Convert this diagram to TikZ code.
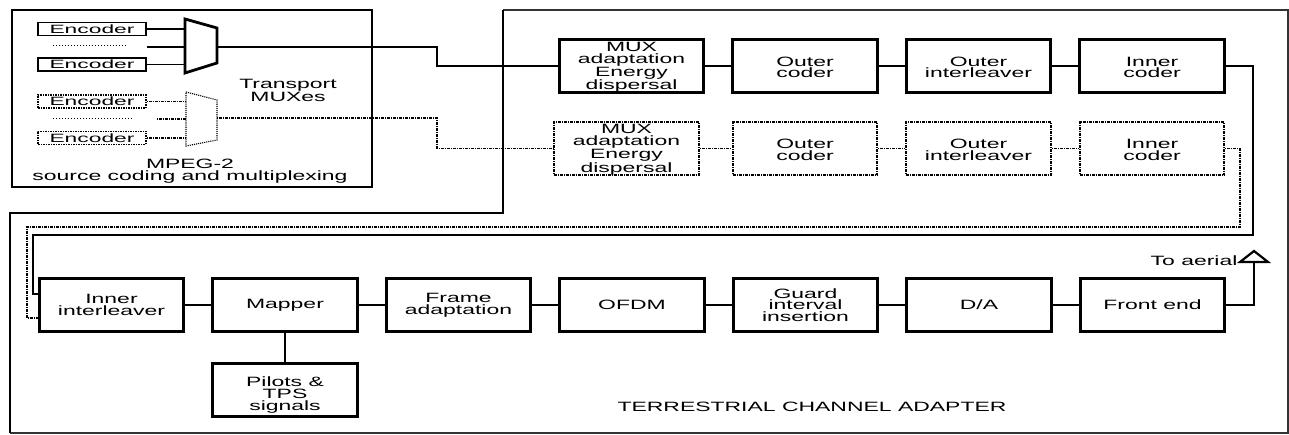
\documentclass[tikz,border=0pt]{standalone}
\usepackage{fontspec}
\setmainfont{Liberation Sans}[FakeStretch=1.70]
\newfontfamily\encfont{Liberation Sans}[FakeStretch=1.9]
\usetikzlibrary{positioning}

\tikzset{
  blockbox/.style={draw, line width=2.6pt, minimum width=144.5pt, minimum height=53.5pt, inner sep=0pt, align=center},
  ghostbox/.style={blockbox, line width=2pt, dash pattern=on 3pt off 1pt on 1pt off 1pt},
  lowtext/.style={text height=#1},
  encbox/.style={draw, line width=1.8pt, minimum width=108pt, minimum height=13pt, inner sep=0pt,
    font=\encfont\fontsize{12}{12}\selectfont},
  ghostenc/.style={encbox, line width=1.5pt, dash pattern=on 2pt off 1pt on 1pt off 1pt},
  link/.style={line width=1.4pt},
  ghostlink/.style={line width=1.4pt, dash pattern=on 1pt off 1pt on 3pt off 1pt},
}

\begin{document}
\begin{tikzpicture}[x=1pt,y=-1pt,node distance=173.5pt,on grid,
  font=\fontsize{13.5}{11.7}\selectfont]
\useasboundingbox (0,0) rectangle (1289,435);

% frames
\draw[line width=1.3pt, black!80] (503,10) -- (1288,10) -- (1288,433) -- (10,433);
\draw[line width=2.8pt] (10,433) -- (10,213) -- (503,213) -- (503,10);
\draw[line width=2.8pt] (12,10) rectangle (372,187);

% MPEG-2 part
\node[encbox]   (enc1) at (92,29)    {Encoder};
\node[encbox]   (enc2) at (92,64.5)  {Encoder};
\node[ghostenc] (enc3) at (92,101.5) {Encoder};
\node[ghostenc] (enc4) at (92,138)   {Encoder};
\draw[line width=1pt, dotted] (53,46) -- (127,46);
\draw[line width=1pt, dotted] (53,119) -- (133,119);

\draw[line width=2.8pt] (185,19) -- (217,28) -- (217,63) -- (185,73) -- cycle;
\draw[line width=1.1pt, densely dotted] (186,92) -- (217,100) -- (217,140) -- (186,146) -- cycle;
\coordinate (muxA) at (185,47);
\coordinate (muxAout) at (217,47);
\coordinate (dotsA) at (147,47);
\coordinate (muxB) at (186,119);
\coordinate (muxBout) at (217,118);
\coordinate (dotsB) at (157,119);

\draw[link] (enc1.east) -- (enc1.east -| muxA);
\draw[link] (enc2.east) -- (enc2.east -| muxA);
\draw[link] (dotsA) -- (muxA);
\draw[ghostlink] (enc3.east) -- (enc3.east -| muxB);
\draw[ghostlink] (enc4.east) -- (enc4.east -| muxB);
\draw[ghostlink] (dotsB) -- (muxB);

\node[align=center] (tmux) at (288,90) {Transport\\MUXes};
\node[align=center] (mpeg) at (190,171) {MPEG-2\\source coding and multiplexing};

% channel adapter, first row
\node[blockbox, lowtext=50.5pt] (madapt) at (631.5,66)  {MUX\\adaptation\\Energy\\dispersal};
\node[blockbox, lowtext=24pt] (ocoder) [right=of madapt] {Outer\\coder};
\node[blockbox, lowtext=24pt] (ointl)  [right=of ocoder] {Outer\\interleaver};
\node[blockbox, lowtext=24pt] (icoder) [right=of ointl]  {Inner\\coder};

\node[ghostbox, lowtext=50.5pt] (madaptB) [below=82.5pt of madapt, xshift=-5pt] {MUX\\adaptation\\Energy\\dispersal};
\node[ghostbox, lowtext=24pt] (ocoderB) [below=82.5pt of ocoder] {Outer\\coder};
\node[ghostbox, lowtext=24pt] (ointlB)  [below=82.5pt of ointl]  {Outer\\interleaver};
\node[ghostbox, lowtext=24pt] (icoderB) [below=82.5pt of icoder] {Inner\\coder};

% second row
\node[blockbox] (iintl)  at (111.5,305) {Inner\\interleaver};
\node[blockbox] (mapper) [right=of iintl]  {Mapper};
\node[blockbox] (fadapt) [right=of mapper] {Frame\\adaptation};
\node[blockbox] (ofdm)   [right=of fadapt] {OFDM};
\node[blockbox] (guard)  [right=of ofdm]   {Guard\\interval\\insertion};
\node[blockbox] (dac)    [right=of guard]  {D/A};
\node[blockbox] (fend)   [right=of dac]    {Front end};
\node[blockbox, lowtext=43pt] (pilots) [below=85pt of mapper] {Pilots \&\\TPS\\signals};

\node (tca) at (812,407) {TERRESTRIAL CHANNEL ADAPTER};

% links
\draw[link] (muxAout) -- ++(220,0) |- (madapt.west);
\draw[ghostlink] (muxBout) -- ++(220,0) |- (madaptB.west);
\path (madapt) edge [link] (ocoder)
      (ocoder) edge [link] (ointl)
      (ointl)  edge [link] (icoder);
\path (madaptB) edge [ghostlink] (ocoderB)
      (ocoderB) edge [ghostlink] (ointlB)
      (ointlB)  edge [ghostlink] (icoderB);

\draw[link] (icoder.east) -| (1253,235) -| ([xshift=-5pt,yshift=11pt]iintl.west) -- ([yshift=11pt]iintl.west);
\draw[ghostlink] (icoderB.east) -| (1240,227) -| ([xshift=-11pt,yshift=-13pt]iintl.west) -- ([yshift=-13pt]iintl.west);

\path (iintl)  edge [link] (mapper)
      (mapper) edge [link] (fadapt)
      (fadapt) edge [link] (ofdm)
      (ofdm)   edge [link] (guard)
      (guard)  edge [link] (dac)
      (dac)    edge [link] (fend)
      (mapper) edge [link] (pilots);

% aerial
\coordinate (aerial) at (1254,262);
\draw[link] (fend.east) -| (aerial);
\draw[line width=2.2pt] (aerial) ++(-14,0) -- ++(14,-11) -- ++(14,11) -- cycle;
\node[anchor=east] (aerlabel) at (1241,261) {To aerial};
\end{tikzpicture}
\end{document}
